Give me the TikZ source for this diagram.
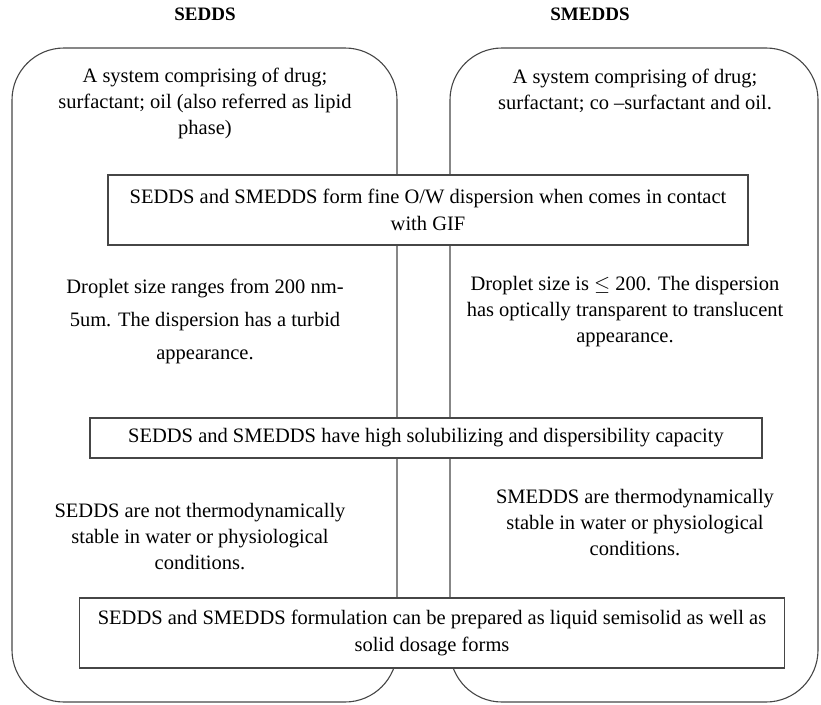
\documentclass[tikz,border=0pt]{standalone}
\usepackage{fontspec}
\setmainfont{Liberation Serif}
\tikzset{
  panel/.style={draw=gray!55!black, line width=1.1pt, rounded corners=52pt},
  infobox/.style={draw=gray!55!black, line width=1.1pt, fill=white, align=center,
    inner sep=0pt, font=\fontsize{20.5}{27}\selectfont},
  note/.style={align=center, font=\fontsize{20.5}{26}\selectfont},
  heading/.style={font=\fontsize{19}{22}\selectfont\bfseries}
}
\begin{document}
\begin{tikzpicture}[x=1pt,y=-1pt]
\useasboundingbox (0,0) rectangle (821,704);
% the two columns
\draw[panel] (12,48) rectangle (397,702);
\draw[panel] (450,48) rectangle (818,702);
\node[heading] (sedds) at (205,14) {SEDDS};
\node[heading] (smedds) at (590,14) {SMEDDS};
% compositions
\node[note] (compL) at (205,103) {A system comprising of drug;\\surfactant; oil (also referred as lipid\\phase)};
\node[note] (compR) at (635,91) {A system comprising of drug;\\surfactant; co --surfactant and oil.};
% shared boxes
\node[infobox, minimum width=640pt, minimum height=70pt] (gif) at (428,210)
  {SEDDS and SMEDDS form fine O/W dispersion when comes in contact\\with GIF};
\node[infobox, minimum width=672pt, minimum height=40pt] (solub) at (426,438)
  {SEDDS and SMEDDS have high solubilizing and dispersibility capacity};
\node[infobox, minimum width=705pt, minimum height=70pt] (form) at (432,633)
  {SEDDS and SMEDDS formulation can be prepared as liquid semisolid as well as\\solid dosage forms};
% droplet size
\node[note, font=\fontsize{20.5}{33}\selectfont] (dropL) at (205,321) {Droplet size ranges from 200 nm-\\5um. The dispersion has a turbid\\appearance.};
\node[note] (dropR) at (625,312) {Droplet size is $\leq$ 200. The dispersion\\has optically transparent to translucent\\appearance.};
% stability
\node[note] (stabL) at (200,537) {SEDDS are not thermodynamically\\stable in water or physiological\\conditions.};
\node[note] (stabR) at (635,523) {SMEDDS are thermodynamically\\stable in water or physiological\\conditions.};
\end{tikzpicture}
\end{document}
